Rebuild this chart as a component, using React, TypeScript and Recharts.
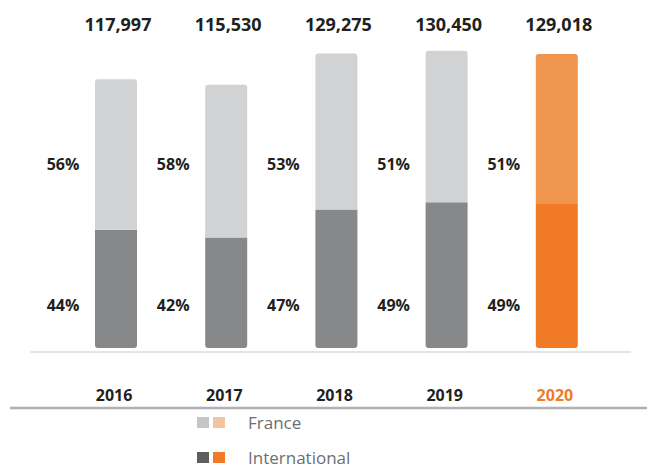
import { BarChart, Bar, XAxis, YAxis, Cell, LabelList } from "recharts";

const years = ["2016", "2017", "2018", "2019", "2020"];
const totals = [117997, 115530, 129275, 130450, 129018];
const francePct = [56, 58, 53, 51, 51];
const intlPct = [44, 42, 47, 49, 49];

const data = years.map((year, i) => ({
  year,
  total: totals[i],
  international: (totals[i] * intlPct[i]) / 100,
  france: (totals[i] * francePct[i]) / 100,
}));

const FONT = "'Open Sans', sans-serif";
const TEXT_DARK = "#231f20";
const LEGEND_TEXT = "#6d6e71";
const GRAY_LIGHT = "#d1d2d4";
const GRAY_DARK = "#87888a";
const ORANGE_LIGHT = "#f0954d";
const ORANGE_DARK = "#f07a26";
const HIGHLIGHT = "2020";

const pctLabel = (values: number[], y: number) => (props: any) => {
  const { x, width, index } = props;
  return (
    <text
      x={x + width / 2 - 53}
      y={y}
      textAnchor="middle"
      dominantBaseline="central"
      fontFamily={FONT}
      fontWeight={700}
      fontSize={16}
      fill={TEXT_DARK}
    >
      {values[index]}%
    </text>
  );
};

const totalLabel = (props: any) => {
  const { x, width, index } = props;
  return (
    <text
      x={x + width / 2 + 2}
      y={24}
      textAnchor="middle"
      dominantBaseline="central"
      fontFamily={FONT}
      fontWeight={700}
      fontSize={18}
      fill={TEXT_DARK}
    >
      {totals[index].toLocaleString("en-US")}
    </text>
  );
};

const YearTick = (props: any) => {
  const { x, y, payload } = props;
  return (
    <text
      x={x - 2}
      y={y + 39}
      textAnchor="middle"
      dominantBaseline="central"
      fontFamily={FONT}
      fontWeight={700}
      fontSize={16}
      fill={payload.value === HIGHLIGHT ? ORANGE_DARK : TEXT_DARK}
    >
      {payload.value}
    </text>
  );
};

const legendRows = [
  { name: "France", swatches: ["#c6c6c6", "#f3c3a2"] },
  { name: "International", swatches: ["#5d5e60", ORANGE_DARK] },
];

// legend drawn as plain svg inside the chart
const LegendSvg = () => (
  <g>
    {legendRows.map((row, i) => {
      const top = 417 + i * 35;
      return (
        <g key={row.name}>
          <rect x={197} y={top} width={12} height={11} fill={row.swatches[0]} />
          <rect x={213} y={top} width={12} height={11} fill={row.swatches[1]} />
          <text x={248} y={top + 12} fontFamily={FONT} fontSize={17} fill={LEGEND_TEXT}>
            {row.name}
          </text>
        </g>
      );
    })}
  </g>
);

export default function App() {
  return (
    <div style={{ position: "absolute", left: 0, top: 0, background: "#fff" }}>
      <BarChart
        width={647}
        height={469}
        data={data}
        margin={{ top: 29, right: 35, left: 61, bottom: 91 }}
        barSize={42}
      >
        <XAxis dataKey="year" axisLine={false} tickLine={false} height={30} tick={<YearTick />} interval={0} />
        <YAxis hide domain={[0, 140000]} />
        <line x1={30} x2={631} y1={352} y2={352} stroke="#dcdcdc" strokeWidth={1.5} />
        <line x1={10} x2={647} y1={408} y2={408} stroke="#b1b1b3" strokeWidth={2.5} />
        <LegendSvg />
        <Bar dataKey="international" stackId="a" radius={[0, 0, 3, 3]} isAnimationActive={false}>
          {data.map((d) => (
            <Cell key={d.year} fill={d.year === HIGHLIGHT ? ORANGE_DARK : GRAY_DARK} />
          ))}
          <LabelList dataKey="international" content={pctLabel(intlPct, 305)} />
        </Bar>
        <Bar dataKey="france" stackId="a" radius={[3, 3, 0, 0]} isAnimationActive={false}>
          {data.map((d) => (
            <Cell key={d.year} fill={d.year === HIGHLIGHT ? ORANGE_LIGHT : GRAY_LIGHT} />
          ))}
          <LabelList dataKey="france" content={pctLabel(francePct, 164)} />
          <LabelList dataKey="total" content={totalLabel} />
        </Bar>
      </BarChart>
    </div>
  );
}
